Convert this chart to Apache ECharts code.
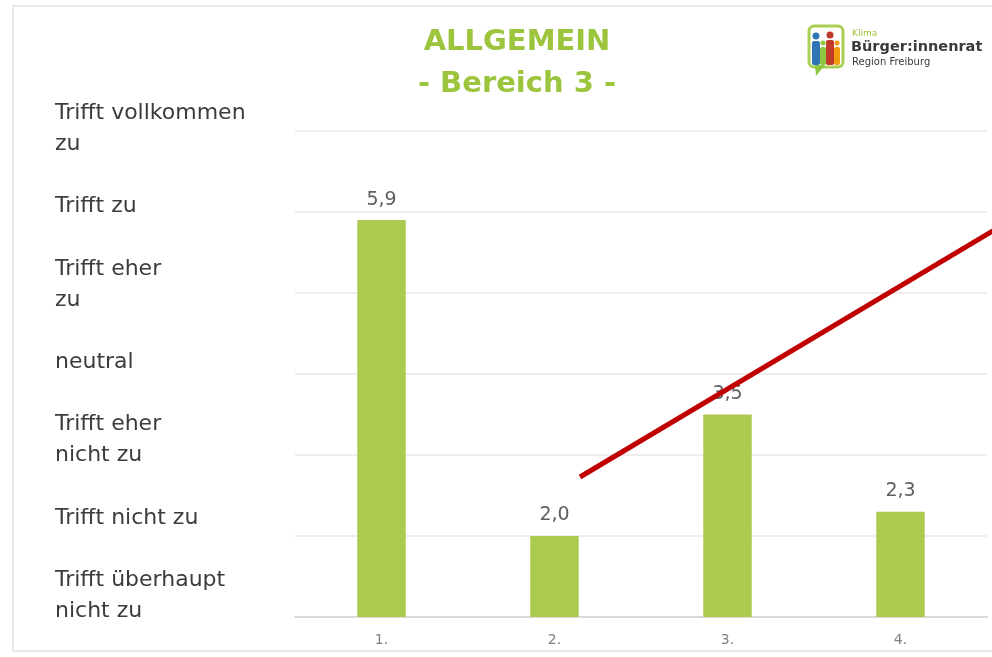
<!DOCTYPE html>
<html>
<head>
<meta charset="utf-8">
<script src="https://cdn.jsdelivr.net/npm/echarts@6/dist/echarts.min.js"></script>
<style>
  html, body { margin: 0; padding: 0; background: #ffffff; }
  #chart { width: 992px; height: 657px; }
</style>
</head>
<body>
<div id="chart"></div>
<script>
// Survey statements and their mean rating (1 = lowest, 7 = highest)
const categories = ['1.', '2.', '3.', '4.'];
const ratings = [5.9, 2.0, 3.5, 2.3];

// Rating scale, bottom (1) to top (7)
const scaleLabels = [
  'Trifft überhaupt\nnicht zu',
  'Trifft nicht zu',
  'Trifft eher\nnicht zu',
  'neutral',
  'Trifft eher\nzu',
  'Trifft zu',
  'Trifft vollkommen\nzu'
];

const titleText = 'ALLGEMEIN\n- Bereich 3 -';

const GREEN_TITLE = '#9cc43c';
const GREEN_BAR = '#abca4f';
const FONT = 'DejaVu Sans';

const chart = echarts.init(document.getElementById('chart'), null, { renderer: 'canvas' });

chart.setOption({
  backgroundColor: '#ffffff',
  animation: false,
  title: {
    text: titleText,
    left: 512,
    top: 16,
    textAlign: 'center',
    textStyle: {
      fontFamily: FONT,
      fontSize: 29,
      fontWeight: 'bold',
      color: GREEN_TITLE,
      lineHeight: 42
    }
  },
  grid: [
    { left: 295, width: 692, top: 131, height: 486 },
    // label column for the rating scale
    { left: 295, width: 692, top: 128.5, height: 467.5 }
  ],
  xAxis: [
    {
      type: 'category',
      gridIndex: 0,
      data: categories,
      axisLine: { lineStyle: { color: '#d9d9d9', width: 2 } },
      axisTick: { show: false },
      axisLabel: { fontFamily: FONT, fontSize: 14, color: '#808080', margin: 16 }
    },
    { type: 'value', gridIndex: 1, show: false }
  ],
  yAxis: [
    {
      type: 'value',
      gridIndex: 0,
      min: 1,
      max: 7,
      interval: 1,
      axisLine: { show: false },
      axisTick: { show: false },
      axisLabel: { show: false },
      splitLine: { lineStyle: { color: '#ededed', width: 2 } }
    },
    {
      type: 'category',
      gridIndex: 1,
      data: scaleLabels,
      boundaryGap: false,
      axisLine: { show: false },
      axisTick: { show: false },
      splitLine: { show: false },
      axisLabel: {
        align: 'left',
        margin: 240,
        fontFamily: FONT,
        fontSize: 22,
        lineHeight: 31,
        color: '#3c3c3c',
        interval: 0
      }
    }
  ],
  series: [
    {
      type: 'bar',
      xAxisIndex: 0,
      yAxisIndex: 0,
      data: ratings,
      barWidth: '28%',
      itemStyle: { color: GREEN_BAR },
      label: {
        show: true,
        position: 'top',
        distance: 11,
        fontFamily: FONT,
        fontSize: 19,
        color: '#5f5f5f',
        formatter: p => p.value.toFixed(1).replace('.', ',')
      }
    }
  ],
  graphic: [
    // frame
    {
      type: 'rect',
      shape: { x: 13, y: 6, width: 990, height: 645 },
      style: { fill: null, stroke: '#e8e8e8', lineWidth: 2 },
      z: 1
    },
    // logo: speech bubble with figures
    {
      type: 'group',
      z: 10,
      children: [
        { type: 'rect', shape: { x: 809, y: 26, width: 34, height: 41, r: 5 },
          style: { fill: '#ffffff', stroke: '#a9cf55', lineWidth: 3 } },
        { type: 'polygon', shape: { points: [[815, 65], [825, 65], [816, 76]] },
          style: { fill: '#8dc63f' } },
        { type: 'circle', shape: { cx: 816, cy: 36, r: 3.5 }, style: { fill: '#2e75b6' } },
        { type: 'rect', shape: { x: 812, y: 41, width: 8, height: 24, r: 2 }, style: { fill: '#2e75b6' } },
        { type: 'circle', shape: { cx: 823, cy: 43, r: 2.5 }, style: { fill: '#8dc63f' } },
        { type: 'rect', shape: { x: 820, y: 47, width: 6, height: 18, r: 2 }, style: { fill: '#8dc63f' } },
        { type: 'circle', shape: { cx: 830, cy: 35, r: 3.5 }, style: { fill: '#c0392b' } },
        { type: 'rect', shape: { x: 826, y: 40, width: 8, height: 25, r: 2 }, style: { fill: '#c0392b' } },
        { type: 'circle', shape: { cx: 837, cy: 43, r: 2.5 }, style: { fill: '#f39c12' } },
        { type: 'rect', shape: { x: 834, y: 47, width: 6, height: 18, r: 2 }, style: { fill: '#f39c12' } },
        { type: 'text', x: 852, y: 29, style: { text: 'Klima', fontFamily: FONT, fontSize: 9, fill: '#9cc43c' } },
        { type: 'text', x: 851, y: 40, style: { text: 'Bürger:innenrat', fontFamily: FONT, fontSize: 14.5, fontWeight: 'bold', fill: '#3a3a3a' } },
        { type: 'text', x: 852, y: 57, style: { text: 'Region Freiburg', fontFamily: FONT, fontSize: 10, fill: '#3a3a3a' } }
      ]
    },
    // red strike line
    {
      type: 'line',
      z: 100,
      shape: { x1: 580, y1: 477, x2: 996, y2: 229 },
      style: { stroke: '#c00000', lineWidth: 5 }
    }
  ]
});
</script>
</body>
</html>
